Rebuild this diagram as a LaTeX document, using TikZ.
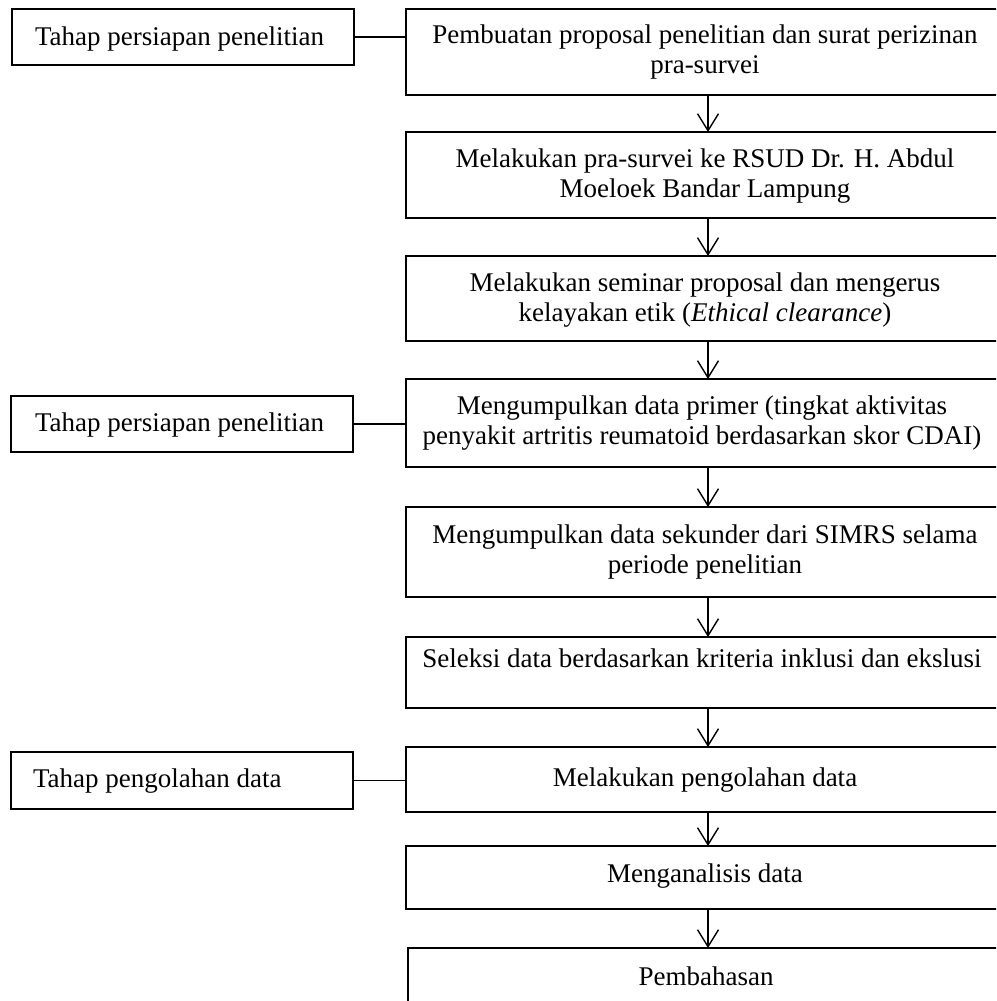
\documentclass[tikz,border=0pt]{standalone}
\usepackage{fontspec}
\setmainfont{Liberation Serif}
\usetikzlibrary{arrows.meta}
\begin{document}
\begin{tikzpicture}[x=0.5pt,y=-0.5pt,
  every node/.style={font=\fontsize{13.5}{14.6}\selectfont, inner sep=0pt, outer sep=0pt},
  stepbox/.style={draw, line width=1pt, minimum width=302pt, anchor=north west},
  phasebox/.style={draw, line width=1pt, minimum width=171pt, minimum height=28pt, anchor=north west},
  steptext/.style={align=center, anchor=center},
  flow/.style={line width=0.7pt, -{Straight Barb[length=8.5pt,width=10.5pt,line width=0.7pt]}},
  link/.style={line width=0.9pt}]
\useasboundingbox (0,0) rectangle (996,1001);
\clip (0,0) rectangle (996,1001);
\fill[white] (0,0) rectangle (996,1001);

% right column boxes
\node[stepbox, minimum height=43pt]   (b1) at (406,9)   {};
\node[stepbox, minimum height=43pt]   (b2) at (406,132) {};
\node[stepbox, minimum height=42.5pt] (b3) at (406,256) {};
\node[stepbox, minimum height=44pt]   (b4) at (406,379) {};
\node[stepbox, minimum height=45pt]   (b5) at (406,507) {};
\node[stepbox, minimum height=35.5pt] (b6) at (406,637) {};
\node[stepbox, minimum height=32.5pt] (b7) at (406,747) {};
\node[stepbox, minimum height=31.5pt] (b8) at (406,846) {};
\node[stepbox, minimum height=46pt]   (b9) at (408,948) {};

% texts of the right column
\node[steptext] (t1) at (705,52)  {Pembuatan proposal penelitian dan surat perizinan\\pra-survei};
\node[steptext] (t2) at (705,176) {Melakukan pra-survei ke RSUD Dr. H. Abdul\\Moeloek Bandar Lampung};
\node[steptext] (t3) at (705,300) {Melakukan seminar proposal dan mengerus\\kelayakan etik (\textit{Ethical clearance})};
\node[steptext] (t4) at (702,423) {Mengumpulkan data primer (tingkat aktivitas\\penyakit artritis reumatoid berdasarkan skor CDAI)};
\node[steptext] (t5) at (705,552) {Mengumpulkan data sekunder dari SIMRS selama\\periode penelitian};
\node[steptext] (t6) at (702,658) {Seleksi data berdasarkan kriteria inklusi dan ekslusi};
\node[steptext] (t7) at (705,780) {Melakukan pengolahan data};
\node[steptext] (t8) at (705,876) {Menganalisis data};
\node[steptext] (t9) at (706,976) {Pembahasan};

% left column
\node[phasebox] (l1) at (12,9)   {};
\node[phasebox] (l2) at (11,396) {};
\node[phasebox, minimum height=28.5pt] (l3) at (11,752) {};
\node[anchor=west] (p1) at (35,39)  {Tahap persiapan penelitian};
\node[anchor=west] (p2) at (35,425) {Tahap persiapan penelitian};
\node[anchor=west] (p3) at (33,781) {Tahap pengolahan data};

% links
\draw[link] (l1.east) -- (l1.east -| b1.west);
\draw[link] (l2.east) -- (l2.east -| b4.west);
\draw[link] (l3.east) -- (l3.east -| b7.west);

% arrows
\draw[flow] (b1.south) -- (b2.north);
\draw[flow] (b2.south) -- (b3.north);
\draw[flow] (b3.south) -- (b4.north);
\draw[flow] (b4.south) -- (b5.north);
\draw[flow] (b5.south) -- (b6.north);
\draw[flow] (b6.south) -- (b7.north);
\draw[flow] (b7.south) -- (b8.north);
\draw[flow] (b8.south) -- (b8.south |- b9.north);
\end{tikzpicture}
\end{document}
